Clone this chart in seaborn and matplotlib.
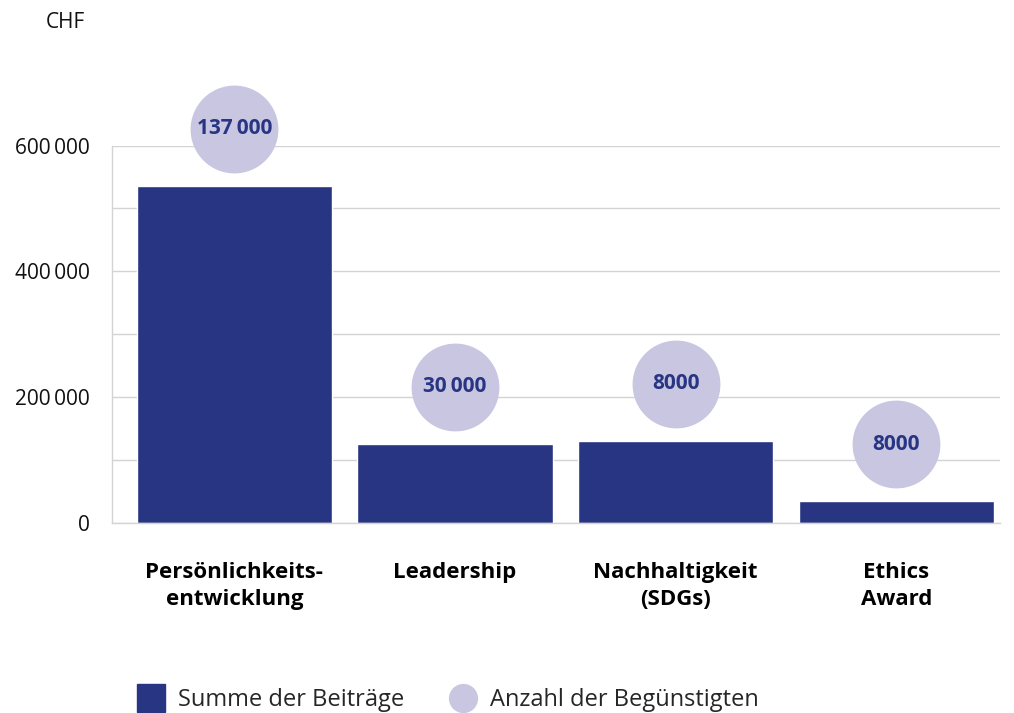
import numpy as np
import pandas as pd
import seaborn as sns
import matplotlib.pyplot as plt
from matplotlib.lines import Line2D
from matplotlib.ticker import MultipleLocator, FuncFormatter

# Data
kategorien = ["Persönlichkeits-\nentwicklung", "Leadership", "Nachhaltigkeit\n(SDGs)", "Ethics\nAward"]
beitraege = [536000, 126000, 131000, 35000]
beguenstigte = [137000, 30000, 8000, 8000]

navy = "#283583"
lavender = "#c8c6e1"
grid_grey = "#d3d3d3"

sns.set_style("white")
plt.rcParams["font.family"] = ["Open Sans", "DejaVu Sans"]

df = pd.DataFrame({"kategorie": kategorien, "summe": beitraege})

fig = plt.figure(figsize=(10.14, 7.13), dpi=100)
ax = fig.add_axes([112 / 1014, 1 - 523.3 / 713, (1000 - 112) / 1014, (523.3 - 145.5) / 713])

sns.barplot(data=df, x="kategorie", y="summe", color=navy, width=0.885,
            saturation=1, ax=ax, zorder=2)

ax.set_ylim(0, 600000)
ax.set_xlim(-0.554, 3.469)
ax.yaxis.set_major_locator(MultipleLocator(200000))
ax.yaxis.set_minor_locator(MultipleLocator(100000))
fmt = lambda v, pos: f"{int(v):,}".replace(",", "\u2009")
ax.yaxis.set_major_formatter(FuncFormatter(fmt))
ax.grid(axis="y", which="both", color=grid_grey, linewidth=1, zorder=0)
ax.set_axisbelow(True)
for s in ["top", "right"]:
    ax.spines[s].set_visible(False)
for s in ["left", "bottom"]:
    ax.spines[s].set_color(grid_grey)
    ax.spines[s].set_linewidth(1)
ax.tick_params(axis="y", which="both", length=0, labelsize=15, pad=16, colors="#111111")
ax.tick_params(axis="x", length=0, labelsize=16, pad=28, colors="black")
for lab in ax.get_xticklabels():
    lab.set_fontweight("bold")
    lab.set_verticalalignment("top")
    lab.set_linespacing(1.35)
ax.set_xlabel("")
ax.set_ylabel("")

# circles above bars, offset in data units
offset = 90500
xs = np.arange(len(kategorien))
ys = np.array(beitraege) + offset
ax.scatter(xs, ys, s=4000, color=lavender, zorder=3, clip_on=False, linewidths=0)
for x, y, n in zip(xs, ys, beguenstigte):
    ax.text(x, y, f"{n:,}".replace(",", "\u2009") if n >= 10000 else str(n),
            ha="center", va="center", fontsize=15, fontweight="bold",
            color=navy, zorder=4, clip_on=False)

fig.text(46 / 1014, 1 - 22 / 713, "CHF", fontsize=15, va="center", ha="left", color="#111111")

handles = [
    Line2D([], [], marker="s", linestyle="", markersize=20, color=navy, label="Summe der Beiträge"),
    Line2D([], [], marker="o", linestyle="", markersize=20, color=lavender, label="Anzahl der Begünstigten"),
]
fig.legend(handles=handles, loc="center left", bbox_to_anchor=(139 / 1014, 1 - 700 / 713),
           ncol=2, frameon=False, fontsize=17, handlelength=1.0, handletextpad=0.64,
           columnspacing=2.0, borderpad=0, borderaxespad=0)

fig.savefig("out.png", dpi=100)
